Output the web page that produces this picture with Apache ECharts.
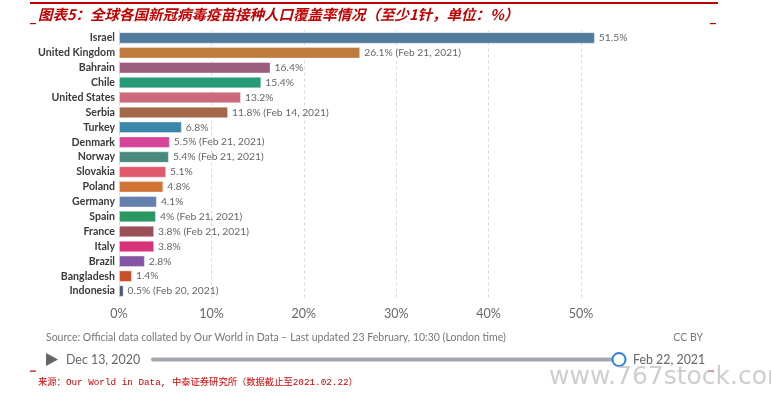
<!DOCTYPE html>
<html>
<head>
<meta charset="utf-8">
<script src="https://cdn.jsdelivr.net/npm/echarts@6/dist/echarts.min.js"></script>
<style>
html,body{margin:0;padding:0;background:#fff;}
#chart{width:771px;height:396px;}
</style>
</head>
<body>
<div id="chart"></div>
<script>
var countries = ['Israel','United Kingdom','Bahrain','Chile','United States','Serbia','Turkey','Denmark','Norway','Slovakia','Poland','Germany','Spain','France','Italy','Brazil','Bangladesh','Indonesia'];
var values = [51.5,26.1,16.4,15.4,13.2,11.8,6.8,5.5,5.4,5.1,4.8,4.1,4,3.8,3.8,2.8,1.4,0.5];
var dateNotes = ['','Feb 21, 2021','','','','Feb 14, 2021','','Feb 21, 2021','Feb 21, 2021','','','','Feb 21, 2021','Feb 21, 2021','','','','Feb 20, 2021'];
var barColors = ['#527a9b','#c07a3c','#9c5d7e','#279a78','#cc6a7c','#a3674a','#3a87ab','#d6459a','#4a8a7c','#e05a6c','#d27436','#6580ac','#2a9660','#9a4e58','#d83378','#8455a5','#c8502a','#4c5a73'];
var xTicks = [0,10,20,30,40,50];

var titleText = '图表5：全球各国新冠病毒疫苗接种人口覆盖率情况（至少1针，单位：%）';
var sourceText = 'Source: Official data collated by Our World in Data – Last updated 23 February, 10:30 (London time)';
var footText = '来源：Our World in Data, 中泰证券研究所（数据截止至2021.02.22）';

(function(){
var chart = echarts.init(document.getElementById('chart'), null, {renderer:'canvas'});
var pxPerUnit = 9.24;
var gLeft = 119, gTop = 30.5, gBottom = 97.5;
var xMaxMain = 55, xMaxGrid = xTicks[xTicks.length-1];

var dataItems = values.map(function(v,i){
  return {value:v, itemStyle:{color:barColors[i]}};
});

var option = {
  animation:false,
  grid:[
    {left:gLeft, top:gTop, bottom:gBottom, width:xMaxMain*pxPerUnit, containLabel:false},
    {left:gLeft, top:gTop, bottom:gBottom, width:xMaxGrid*pxPerUnit, containLabel:false}
  ],
  xAxis:[
    {gridIndex:0, type:'value', min:0, max:xMaxMain, interval:10,
     axisLine:{show:false}, axisTick:{show:false}, splitLine:{show:false},
     axisLabel:{show:false}},
    {gridIndex:1, type:'value', min:0, max:xMaxGrid, interval:10,
     axisLine:{show:false}, axisTick:{show:false},
     splitLine:{show:true, lineStyle:{color:'#dadada', type:[3,3], width:1}},
     axisLabel:{show:true, color:'#666', fontSize:12.5, fontFamily:'Lato', margin:9,
       formatter:function(v){return v+'%';}}}
  ],
  yAxis:[
    {gridIndex:0, type:'category', data:countries, inverse:true,
     axisLine:{show:false}, axisTick:{show:false},
     axisLabel:{interval:0, color:'#3a3a3a', fontSize:10.6, fontFamily:'Lato', fontWeight:'bold', margin:4}},
    {gridIndex:1, type:'category', data:countries, inverse:true, show:false}
  ],
  series:[{
    type:'bar', xAxisIndex:0, yAxisIndex:0, data:dataItems, barWidth:11.5,
    itemStyle:{borderColor:'rgba(255,255,255,0.35)', borderWidth:1},
    label:{show:true, position:'right', distance:4, color:'#666', fontSize:10.3, fontFamily:'Lato',
      formatter:function(p){
        var n = dateNotes[p.dataIndex];
        return p.value + '%' + (n ? ' (' + n + ')' : '');
      }}
  }],
  graphic:[
    {type:'rect', shape:{x:30, y:2, width:688, height:2}, style:{fill:'#c00000'}},
    {type:'rect', shape:{x:30, y:23, width:6, height:1.2}, style:{fill:'#c00000'}},
    {type:'rect', shape:{x:710, y:23, width:6, height:1.2}, style:{fill:'#c00000'}},
    {type:'rect', shape:{x:30, y:370.5, width:6, height:1.2}, style:{fill:'#c00000'}},
    {type:'rect', shape:{x:708, y:370.5, width:6, height:1.2}, style:{fill:'#c00000'}},
    {type:'text', x:38, y:14, style:{text:titleText, fill:'#c00000', font:'italic bold 14.5px "Noto Sans CJK SC"', textVerticalAlign:'middle'}},
    {type:'text', x:46, y:338, style:{text:sourceText, fill:'#777', font:'10.5px Lato', textVerticalAlign:'middle'}},
    {type:'text', x:703, y:338, style:{text:'CC BY', fill:'#777', font:'10.5px Lato', textAlign:'right', textVerticalAlign:'middle'}},
    {type:'polygon', shape:{points:[[46,353],[46,366],[58,359.5]]}, style:{fill:'#666'}},
    {type:'text', x:66, y:359.5, style:{text:'Dec 13, 2020', fill:'#666', font:'12.4px Lato', textVerticalAlign:'middle'}},
    {type:'rect', shape:{x:151, y:357.5, width:466, height:4, r:2}, style:{fill:'#a3a8b0'}},
    {type:'circle', shape:{cx:619, cy:359.5, r:6.5}, style:{fill:'#fff', stroke:'#2f7fe0', lineWidth:2}},
    {type:'text', x:633, y:359.5, style:{text:'Feb 22, 2021', fill:'#666', font:'12.4px Lato', textVerticalAlign:'middle'}},
    {type:'text', x:38, y:383, style:{text:footText, fill:'#d00000', font:'9.3px "Liberation Mono","Noto Sans CJK SC"', textVerticalAlign:'middle'}},
    {type:'text', x:549, y:377, style:{text:'www.767stock.com', fill:'rgba(190,190,190,0.75)', font:'25px "DejaVu Sans"', textVerticalAlign:'middle'}}
  ]
};
chart.setOption(option);
})();
</script>
</body>
</html>
